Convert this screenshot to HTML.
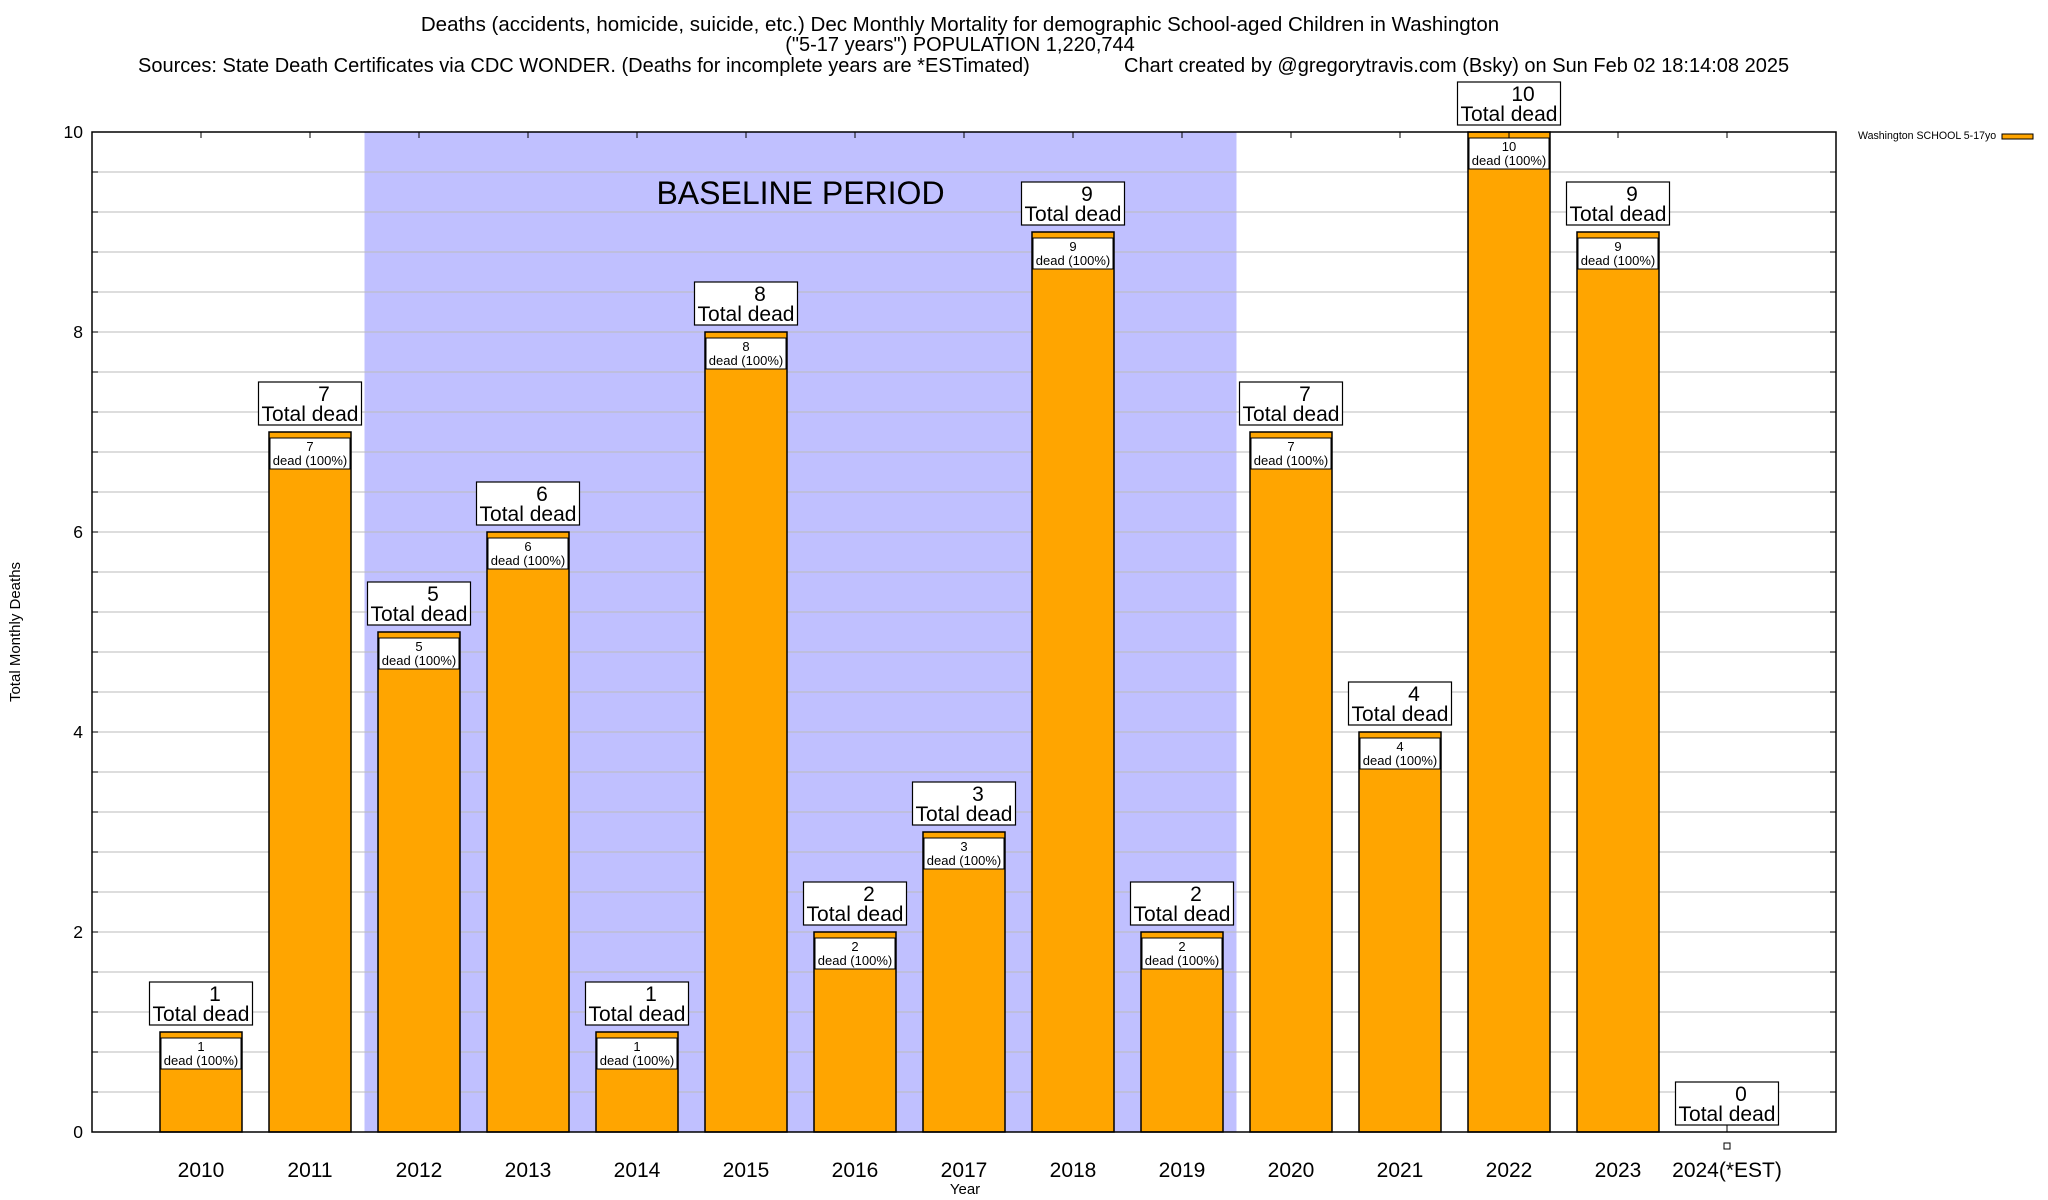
<!DOCTYPE html>
<html><head><meta charset="utf-8"><style>
body{margin:0;background:#fff}
svg{display:block;font-family:"Liberation Sans",Arial,sans-serif}
</style></head><body>
<svg id="chart" width="2048" height="1200" viewBox="0 0 2048 1200" xmlns="http://www.w3.org/2000/svg">
<rect width="2048" height="1200" fill="#fff"/>
<g id="bg"></g>
<g id="grid"></g>
<g id="bars"></g>
<g id="axes"></g>
<text x="960" y="31" font-size="20.5" text-anchor="middle">Deaths (accidents, homicide, suicide, etc.) Dec Monthly Mortality for demographic School-aged Children in Washington</text>
<text x="960" y="51" font-size="20" text-anchor="middle">("5-17 years") POPULATION 1,220,744</text>
<text x="138" y="72" font-size="20">Sources: State Death Certificates via CDC WONDER. (Deaths for incomplete years are *ESTimated)</text>
<text x="1124" y="72" font-size="20">Chart created by @gregorytravis.com (Bsky) on Sun Feb 02 18:14:08 2025</text>
<text transform="translate(20,632) rotate(-90)" font-size="15" text-anchor="middle">Total Monthly Deaths</text>
<text x="965" y="1194" font-size="15" text-anchor="middle">Year</text>
<text x="1858" y="139" font-size="10.6">Washington SCHOOL 5-17yo</text>
<rect x="2002" y="134" width="31" height="5" fill="#ffa500" stroke="#000" stroke-width="1"/>
</svg>
<script>
const categories=["2010","2011","2012","2013","2014","2015","2016","2017","2018","2019","2020","2021","2022","2023","2024(*EST)"];
const deaths=[1,7,5,6,1,8,2,3,9,2,7,4,10,9,0];
const yTicks=[0,2,4,6,8,10];
const baselineRange=[1.5,9.5];
const NS="http://www.w3.org/2000/svg";
const L=92,R=1836,T=132,B=1132,yMax=10;
const x0=201,step=109,bw=82;
const xS=i=>x0+i*step;
const yS=v=>B-(v/yMax)*(B-T);
function mk(tag,attrs,parent,text){const e=document.createElementNS(NS,tag);for(const k in attrs)e.setAttribute(k,attrs[k]);if(text!==undefined)e.textContent=text;parent.appendChild(e);return e;}
const bg=document.getElementById('bg'),grid=document.getElementById('grid'),bars=document.getElementById('bars'),axes=document.getElementById('axes');
mk('rect',{x:L,y:T,width:R-L,height:B-T,fill:'#fff'},bg);
const sh=mk('rect',{x:xS(baselineRange[0]),y:T,width:xS(baselineRange[1])-xS(baselineRange[0]),height:B-T,fill:'#c0c0ff'},bg);


const bt=mk('text',{x:(xS(baselineRange[0])+xS(baselineRange[1]))/2,y:204,'font-size':32,'text-anchor':'middle'},bg,'BASELINE PERIOD');


for(let v=0.4;v<yMax-0.01;v+=0.4){const y=yS(v);
 mk('line',{x1:L,x2:R,y1:y,y2:y,stroke:'#bbb','stroke-width':1},grid);
 mk('line',{x1:L,x2:L+6,y1:y,y2:y,stroke:'#000'},axes);
 mk('line',{x1:R-6,x2:R,y1:y,y2:y,stroke:'#000'},axes);}
yTicks.forEach(v=>{const t=mk('text',{x:83,y:yS(v)+6,'font-size':17.5,'text-anchor':'end'},axes,String(v));
 
 });
categories.forEach((c,i)=>{const cx=xS(i),v=deaths[i];
 mk('line',{x1:cx,x2:cx,y1:T,y2:T+6,stroke:'#000'},axes);
 const xl=mk('text',{x:cx,y:1177,'font-size':21,'text-anchor':'middle'},axes,c);
 
 
 const g=mk('g',{},bars);
 
 
 const top=yS(v);
 if(v>0){
  mk('rect',{x:cx-bw/2,y:top,width:bw,height:B-top,fill:'#ffa500',stroke:'#000','stroke-width':1.5},g);
  mk('rect',{x:cx-bw/2+1,y:top+6,width:bw-2,height:31,fill:'#fff',stroke:'#000','stroke-width':1},g);
  mk('text',{x:cx,y:top+19,'font-size':13,'text-anchor':'middle'},g,String(v));
  mk('text',{x:cx,y:top+33,'font-size':13,'text-anchor':'middle'},g,'dead (100%)');
 } else {
  mk('line',{x1:cx,x2:cx,y1:top-7,y2:top,stroke:'#000'},g);
  mk('rect',{x:cx-3,y:1143,width:6,height:6,fill:'#fff',stroke:'#000','stroke-width':1},g);
 }
 const lb=mk('g',{},g);
 
 
 mk('rect',{x:cx-51.5,y:top-50,width:103,height:43,fill:'#fff',stroke:'#000','stroke-width':1.2},lb);
 mk('text',{x:cx+14,y:top-31,'font-size':21,'text-anchor':'middle'},lb,String(v));
 mk('text',{x:cx,y:top-11,'font-size':21,'text-anchor':'middle'},lb,'Total dead');
});
mk('rect',{x:L,y:T,width:R-L,height:B-T,fill:'none',stroke:'#000','stroke-width':1.5},axes);
</script>
</body></html>
